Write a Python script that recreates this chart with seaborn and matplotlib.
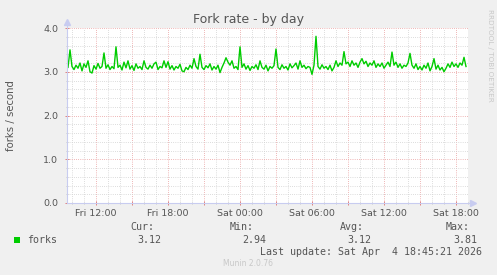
import numpy as np
import pandas as pd
import matplotlib
matplotlib.use("Agg")
import matplotlib.pyplot as plt
import matplotlib.dates as mdates
from matplotlib.ticker import MultipleLocator, FuncFormatter
from matplotlib.patches import Rectangle
import seaborn as sns

# ---- data ----
start_time = "2026-04-03 09:40"
step = "10min"
fork_rate = [
    3.10, 3.50, 3.12, 3.05, 3.15, 3.08, 3.20, 3.02, 3.18, 3.10,
    3.25, 3.00, 2.97, 3.14, 3.06, 3.19, 3.08, 3.12, 3.43, 3.08,
    3.16, 3.05, 3.12, 3.07, 3.57, 3.10, 3.15, 3.04, 3.22, 3.09,
    3.25, 3.06, 3.14, 3.03, 3.18, 3.08, 3.12, 3.05, 3.25, 3.10,
    3.06, 3.15, 3.08, 3.18, 3.22, 3.05, 3.12, 3.09, 3.25, 3.10,
    3.23, 3.06, 3.14, 3.04, 3.12, 3.08, 3.17, 3.02, 3.00, 3.10,
    3.05, 3.15, 3.08, 3.30, 3.12, 3.06, 3.40, 3.10, 3.05, 3.14,
    3.09, 3.18, 3.04, 3.12, 3.06, 3.15, 2.98, 3.10, 3.20, 3.32,
    3.22, 3.15, 3.25, 3.08, 3.12, 3.05, 3.57, 3.10, 3.18, 3.06,
    3.14, 3.03, 3.12, 3.08, 3.16, 3.05, 3.25, 3.10, 3.06, 3.15,
    3.02, 3.12, 3.08, 3.14, 3.52, 3.10, 3.05, 3.16, 3.08, 3.12,
    3.04, 3.18, 3.09, 3.14, 3.20, 3.06, 3.25, 3.10, 3.15, 3.07,
    3.12, 3.10, 2.94, 3.15, 3.81, 3.12, 3.06, 3.16, 3.08, 3.12,
    3.05, 3.15, 3.02, 3.10, 3.25, 3.12, 3.20, 3.15, 3.46, 3.18,
    3.22, 3.12, 3.25, 3.15, 3.20, 3.10, 3.22, 3.30, 3.18, 3.24,
    3.12, 3.20, 3.15, 3.25, 3.10, 3.18, 3.12, 3.20, 3.08, 3.15,
    3.22, 3.12, 3.45, 3.15, 3.22, 3.10, 3.18, 3.08, 3.15, 3.12,
    3.20, 3.42, 3.15, 3.08, 3.18, 3.05, 3.12, 3.04, 3.15, 3.08,
    3.20, 3.02, 3.12, 3.30, 3.06, 3.15, 3.04, 3.10, 3.00, 3.08,
    3.18, 3.10, 3.22, 3.12, 3.18, 3.10, 3.20, 3.15, 3.33, 3.12,
]
series_name = "forks"
title = "Fork rate - by day"
y_label = "forks / second"
stat_labels = ["Cur:", "Min:", "Avg:", "Max:"]
stat_values = ["3.12", "2.94", "3.12", "3.81"]
last_update = "Last update: Sat Apr  4 18:45:21 2026"
x_start = "2026-04-03 09:35"
x_end = "2026-04-04 19:00"

df = pd.DataFrame({
    "time": pd.date_range(start_time, periods=len(fork_rate), freq=step),
    "value": fork_rate,
})

# ---- figure ----
W, H = 497, 275
fig = plt.figure(figsize=(W / 100, H / 100), dpi=100, facecolor="#F0F0F0")
L, R, T, B = 67, 468, 28, 203
ax = fig.add_axes([L / W, 1 - B / H, (R - L) / W, (B - T) / H])
ax.set_facecolor("white")

TXT = "#555555"
GREEN = "#00CC00"

sns.lineplot(data=df, x="time", y="value", ax=ax, color=GREEN, linewidth=1.0, zorder=5)

ax.set_xlim(pd.Timestamp(x_start), pd.Timestamp(x_end))
ax.set_ylim(0, 4.0)

# grids
ax.xaxis.set_major_locator(mdates.HourLocator(byhour=range(0, 24, 3)))
ax.xaxis.set_minor_locator(mdates.HourLocator())
def xfmt(v, pos):
    d = mdates.num2date(v)
    if d.hour % 6 == 0:
        return d.strftime("%a %H:%M")
    return ""
ax.xaxis.set_major_formatter(FuncFormatter(xfmt))
ax.yaxis.set_major_locator(MultipleLocator(1.0))
ax.yaxis.set_minor_locator(MultipleLocator(0.2))
ax.yaxis.set_major_formatter(FuncFormatter(lambda v, p: f"{v:.1f}"))

dash = (0, (0.72, 1.44))
ax.grid(which="minor", color="#D2D2D2", linestyle=dash, linewidth=0.72, zorder=1)
ax.grid(which="major", color="#EAA0A0", linestyle=dash, linewidth=0.72, zorder=2)
ax.set_axisbelow(True)

ax.tick_params(axis="both", which="major", length=2.5, direction="inout",
               color="#E08080", labelcolor=TXT, labelsize=6.8, width=0.7)
ax.tick_params(axis="both", which="minor", length=2, direction="inout",
               color="#C8C8C8", width=0.7)
ax.tick_params(axis="x", which="major", pad=3)
ax.tick_params(axis="y", which="major", pad=5)

for s in ax.spines.values():
    s.set_visible(False)

AX_COL = "#C8CCF0"
ax.plot([0, 0], [0, 1.035], transform=ax.transAxes, color=AX_COL, lw=0.8, clip_on=False, zorder=6)
ax.plot([0, 1.012], [0, 0], transform=ax.transAxes, color=AX_COL, lw=0.8, clip_on=False, zorder=6)
ax.plot([0], [1.035], transform=ax.transAxes, marker="^", ms=4, color=AX_COL, clip_on=False, zorder=6)
ax.plot([1.012], [0], transform=ax.transAxes, marker=">", ms=4, color=AX_COL, clip_on=False, zorder=6)

ax.set_xlabel("")
ax.set_ylabel("")

def fy(y):
    return 1 - y / H

fig.text(248.5 / W, fy(20), title, ha="center", va="center", fontsize=9, color=TXT)
fig.text(11 / W, fy(115.5), y_label, ha="center", va="center", rotation=90, fontsize=7.3, color=TXT)
fig.text(490 / W, fy(55), "RRDTOOL / TOBI OETIKER", ha="center", va="center", rotation=270,
         fontsize=5.2, color="#C8C8C8")

mono = "DejaVu Sans Mono"
fig.patches.append(Rectangle((14 / W, fy(243)), 6 / W, 6 / H, transform=fig.transFigure,
                             facecolor=GREEN, edgecolor="none"))
fig.text(27 / W, fy(240), series_name, ha="left", va="center", fontsize=7.2, family=mono, color=TXT)
label_right = [154, 254, 364, 470]
value_right = [161, 266, 371, 477]
for lab, val, lr, vr in zip(stat_labels, stat_values, label_right, value_right):
    fig.text(lr / W, fy(227), lab, ha="right", va="center", fontsize=7.2, family=mono, color=TXT)
    fig.text(vr / W, fy(240), val, ha="right", va="center", fontsize=7.2, family=mono, color=TXT)
fig.text(482 / W, fy(252), last_update, ha="right", va="center", fontsize=7.2, family=mono, color=TXT)
fig.text(248 / W, fy(263.5), "Munin 2.0.76", ha="center", va="center", fontsize=5.5, color="#C8C8C8")

fig.savefig("out.png", dpi=100, facecolor=fig.get_facecolor())
